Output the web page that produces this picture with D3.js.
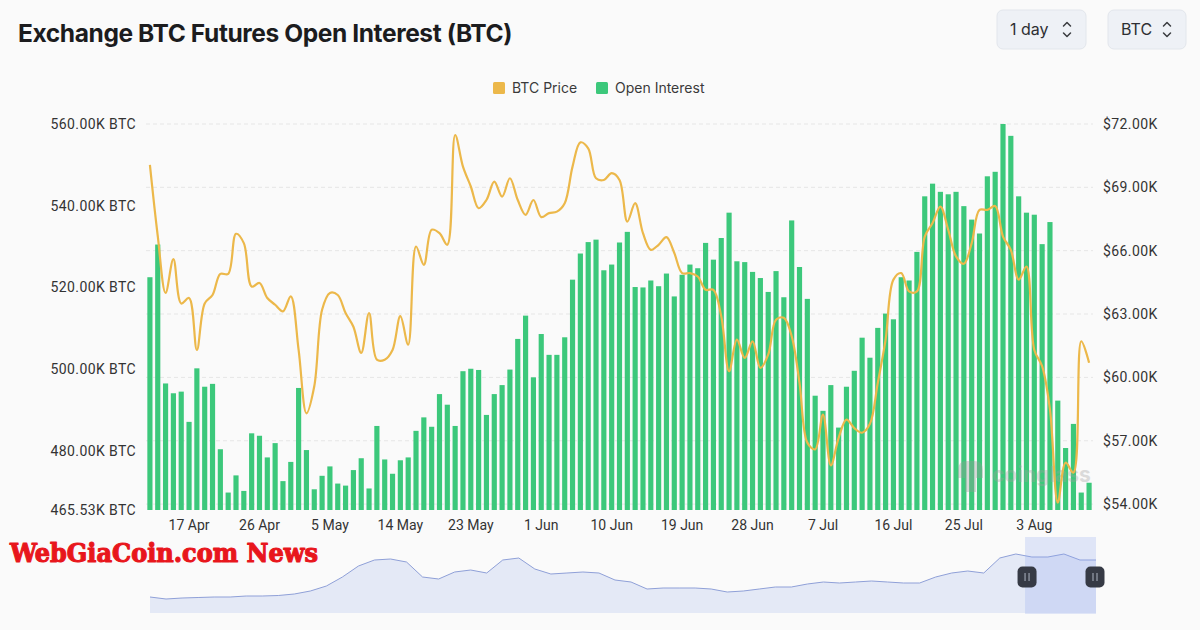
<!DOCTYPE html>
<html>
<head>
<meta charset="utf-8">
<script src="https://cdn.jsdelivr.net/npm/d3@7"></script>
<style>
  html, body { margin: 0; padding: 0; background: #fafafa; }
  svg { display: block; }
</style>
</head>
<body>
<svg id="chart" width="1200" height="630"></svg>
<script>
// ---------------- DATA ----------------
const startDate = "2024-04-12";
const dayCount = 121;

// Open interest, thousands of BTC (one bar per day)
const openInterest = [
  522.5, 530.5, 496.5, 494.1, 494.5, 487.1, 500.2, 495.7, 496.4, 480.4,
  469.8, 474.0, 470.2, 484.3, 483.7, 478.4, 481.9, 472.6, 477.3, 495.4,
  480.2, 470.6, 473.9, 476.2, 472.0, 471.5, 475.3, 478.2, 470.8, 486.1,
  477.9, 474.4, 477.7, 478.4, 484.9, 488.2, 485.9, 493.9, 491.3, 486.1,
  499.5, 500.1, 499.8, 488.8, 493.9, 496.1, 499.9, 507.4, 513.1, 498.0,
  508.6, 503.5, 503.5, 507.8, 521.9, 528.3, 531.1, 531.7, 524.2, 525.6,
  531.0, 533.6, 520.1, 520.0, 521.7, 520.3, 523.4, 517.8, 523.1, 525.6,
  524.7, 530.9, 526.8, 532.1, 538.3, 526.4, 526.2, 523.8, 522.3, 518.9,
  524.0, 517.6, 536.4, 525.0, 517.2, 493.5, 489.8, 496.1, 485.7, 495.7,
  499.6, 507.7, 502.8, 510.1, 513.6, 512.2, 522.5, 521.7, 528.7, 542.3,
  545.4, 543.4, 542.8, 543.4, 539.9, 536.6, 533.2, 547.2, 548.3, 560.0,
  557.1, 542.3, 538.3, 537.8, 530.6, 536.0, 492.3, 480.7, 486.6, 469.8,
  472.2
];

// BTC price, thousands of USD (one point per day)
const btcPrice = [
  70.06, 66.70, 64.00, 65.60, 63.50, 63.76, 61.30, 63.50, 63.90, 64.90,
  64.90, 66.80, 66.36, 64.30, 64.47, 63.76, 63.44, 63.13, 63.84, 61.30,
  58.30, 59.58, 63.20, 64.00, 63.90, 63.05, 62.40, 61.16, 63.05, 60.84,
  60.84, 61.30, 62.90, 61.55, 66.20, 65.33, 66.99, 66.83, 66.28, 71.48,
  69.98, 69.04, 68.01, 68.40, 69.27, 68.56, 69.43, 68.40, 67.70, 68.40,
  67.59, 67.78, 67.85, 68.25, 69.98, 71.13, 70.85, 69.43, 69.35, 69.67,
  69.35, 67.38, 68.25, 66.83, 66.04, 66.28, 66.64, 65.89, 64.94, 64.94,
  64.78, 64.15, 64.15, 62.90, 60.29, 61.79, 60.92, 61.71, 60.45, 61.08,
  62.73, 62.82, 61.95, 59.74, 56.91, 56.59, 58.24, 55.83, 57.14, 58.00,
  57.60, 57.38, 57.80, 59.74, 61.79, 64.63, 64.94, 64.07, 64.07, 66.67,
  67.31, 68.09, 66.99, 65.73, 65.38, 66.36, 67.93, 67.93, 68.12, 66.67,
  66.04, 64.63, 65.25, 61.30, 60.53, 58.48, 54.07, 55.96, 55.49, 61.71,
  60.69
];

// Axis ticks
const oiTicks = [465.53, 480, 500, 520, 540, 560];
const priceTicks = [54, 57, 60, 63, 66, 69, 72];
const xTickLabels = ["17 Apr", "26 Apr", "5 May", "14 May", "23 May", "1 Jun", "10 Jun",
                     "19 Jun", "28 Jun", "7 Jul", "16 Jul", "25 Jul", "3 Aug"];

// Navigator (overview) trend, arbitrary units, evenly sampled
const navigatorTrend = [
  16, 14, 15, 15.5, 16, 16, 17, 17, 17.5, 19, 22, 27, 36, 47, 53, 54, 51, 36, 34, 41,
  43, 40, 53, 55, 44, 39, 40, 41, 40, 33, 31, 24, 25, 25, 25, 24, 21, 22, 24, 26,
  26, 29, 31, 30, 31, 32, 31, 30, 30, 36, 40, 42, 40, 55, 59, 56, 56, 59, 53, 53
];
const navigatorWindow = [0.925, 1.0];

const legendItems = [
  { label: "BTC Price", color: "#ecb84a" },
  { label: "Open Interest", color: "#3cc87b" }
];
const selectors = ["1 day", "BTC"];

// ---------------- CHART ----------------
const svg = d3.select("#chart");
const W = 1200, H = 630;
const plot = { left: 146, right: 1093, top: 124, bottom: 510 };

const parse = d3.timeParse("%Y-%m-%d");
const fmtDay = d3.timeFormat("%-d %b");
const dates = d3.timeDay.range(parse(startDate), d3.timeDay.offset(parse(startDate), dayCount));
const dayLabels = dates.map(fmtDay);

const x = d3.scaleBand().domain(dayLabels).range([plot.left, plot.right]).paddingInner(0.34).paddingOuter(0.17);
const yOI = d3.scaleLinear().domain([465.53, 560]).range([plot.bottom, plot.top]);
const yPrice = d3.scaleLinear().domain([53.72, 72]).range([plot.bottom, plot.top]);

svg.append("rect").attr("width", W).attr("height", H).attr("fill", "#fafafa");

// Title
const title = svg.append("text")
  .attr("x", 18).attr("y", 42)
  .attr("font-family", "Inter, 'Open Sans', sans-serif")
  .attr("font-weight", 700)
  .attr("font-size", 24)
  .attr("letter-spacing", -0.4)
  .attr("fill", "#1c1c1e")
  .text("Exchange BTC Futures Open Interest (BTC)");
{
  const len = title.node().getComputedTextLength();
  const fs = 24 * 494 / len;
  title.attr("font-size", fs.toFixed(2));
}

// Selector buttons
const btnSpecs = [{ x: 997, w: 89 }, { x: 1108, w: 78 }];
selectors.forEach((s, i) => {
  const b = btnSpecs[i];
  const g = svg.append("g").attr("transform", `translate(${b.x},10)`);
  g.append("rect").attr("width", b.w).attr("height", 39).attr("rx", 6)
    .attr("fill", "#eef1f6").attr("stroke", "#e2e6ec");
  g.append("text").attr("x", 13).attr("y", 25)
    .attr("font-family", "Inter, sans-serif").attr("font-size", 16)
    .attr("fill", "#2d2f33").text(s);
  const cx = b.w - 19;
  g.append("path")
    .attr("d", `M${cx - 3.5},16 L${cx},12.5 L${cx + 3.5},16 M${cx - 3.5},23 L${cx},26.5 L${cx + 3.5},23`)
    .attr("fill", "none").attr("stroke", "#3a3c40").attr("stroke-width", 1.5)
    .attr("stroke-linecap", "round").attr("stroke-linejoin", "round");
});

// Legend
const legend = svg.append("g").attr("font-family", "Inter, sans-serif").attr("font-size", 14);
const legendX = [493, 596];
legendItems.forEach((d, i) => {
  legend.append("rect").attr("x", legendX[i]).attr("y", 82).attr("width", 12).attr("height", 12)
    .attr("rx", 1.5).attr("fill", d.color);
  legend.append("text").attr("x", legendX[i] + 19).attr("y", 93)
    .attr("fill", "#3a3a3a").text(d.label);
});

// Grid lines (right axis ticks)
svg.append("g").selectAll("line").data(priceTicks).join("line")
  .attr("x1", plot.left).attr("x2", plot.right)
  .attr("y1", d => yPrice(d)).attr("y2", d => yPrice(d))
  .attr("stroke", "#e6e6e6").attr("stroke-dasharray", "4,3").attr("stroke-width", 1);

// Bars
svg.append("g").selectAll("rect").data(openInterest).join("rect")
  .attr("x", (d, i) => x(dayLabels[i]))
  .attr("width", x.bandwidth())
  .attr("y", d => yOI(d))
  .attr("height", d => plot.bottom - yOI(d))
  .attr("fill", "#3cc87b");

// Coinglass watermark
const wm = svg.append("g").attr("opacity", 0.35);
wm.append("path")
  .attr("d", "M958,470 Q958,461 967,461 L974,461 Q983,461 983,470 L983,478 L976,478 L976,492 L965,492 L965,478 L958,478 Z")
  .attr("fill", "#9a9a9a");
wm.append("text").attr("x", 992).attr("y", 482)
  .attr("font-family", "Inter, sans-serif").attr("font-weight", 700).attr("font-size", 21)
  .attr("fill", "#a0a0a0").text("coinglass");

// Price line
const line = d3.line()
  .x((d, i) => x(dayLabels[i]) + x.bandwidth() / 2)
  .y(d => yPrice(d))
  .curve(d3.curveCatmullRom.alpha(0.5));
svg.append("path").datum(btcPrice)
  .attr("d", line)
  .attr("fill", "none").attr("stroke", "#ecb84a").attr("stroke-width", 2.2)
  .attr("stroke-linejoin", "round");

// Left axis
const leftAxis = d3.axisLeft(yOI).tickValues(oiTicks).tickSize(0).tickPadding(0)
  .tickFormat(d => d3.format(".2f")(d) + "K BTC");
const gL = svg.append("g").attr("transform", "translate(136,0)").call(leftAxis);
gL.select(".domain").remove();
gL.selectAll("text").attr("font-family", "Roboto, sans-serif").attr("font-size", 14)
  .attr("letter-spacing", 0.4).attr("fill", "#333");

// Right axis
const rightAxis = d3.axisRight(yPrice).tickValues(priceTicks).tickSize(0).tickPadding(0)
  .tickFormat(d => "$" + d3.format(".2f")(d) + "K");
const gR = svg.append("g").attr("transform", "translate(1103,0)").call(rightAxis);
gR.select(".domain").remove();
gR.selectAll("text").attr("font-family", "Roboto, sans-serif").attr("font-size", 14)
  .attr("letter-spacing", 0.4).attr("fill", "#333");

// Bottom axis
const bottomAxis = d3.axisBottom(x).tickValues(xTickLabels).tickSize(0).tickPadding(0);
const gB = svg.append("g").attr("transform", `translate(0,${plot.bottom + 10})`).call(bottomAxis);
gB.select(".domain").remove();
gB.selectAll("text").attr("font-family", "Roboto, sans-serif").attr("font-size", 14).attr("fill", "#333");

// Navigator
const nav = { left: 150, right: 1096, top: 537, bottom: 614 };
const nx = d3.scaleLinear().domain([0, navigatorTrend.length - 1]).range([nav.left, nav.right]);
const ny = d3.scaleLinear().domain([0, 75]).range([613, 538]);
const nwin = d3.scaleLinear().domain([0, 1]).range([nav.left, nav.right]);
svg.append("path").datum(navigatorTrend)
  .attr("d", d3.area().x((d, i) => nx(i)).y0(613).y1(d => ny(d)).curve(d3.curveLinear))
  .attr("fill", "#e4e9f6");
svg.append("path").datum(navigatorTrend)
  .attr("d", d3.line().x((d, i) => nx(i)).y(d => ny(d)))
  .attr("fill", "none").attr("stroke", "#8fa0d8").attr("stroke-width", 1);
svg.append("rect")
  .attr("x", nwin(navigatorWindow[0])).attr("width", nwin(navigatorWindow[1]) - nwin(navigatorWindow[0]))
  .attr("y", nav.top).attr("height", nav.bottom - nav.top)
  .attr("fill", "#8fa6f0").attr("opacity", 0.25);
navigatorWindow.forEach(v => {
  const cx = nwin(v) + (v === 1 ? -1 : 2);
  const g = svg.append("g").attr("transform", `translate(${cx},577)`);
  g.append("rect").attr("x", -9.5).attr("y", -10.5).attr("width", 19).attr("height", 21).attr("rx", 5)
    .attr("fill", "#363a45");
  g.append("line").attr("x1", -2).attr("x2", -2).attr("y1", -4).attr("y2", 4).attr("stroke", "#9aa0ad").attr("stroke-width", 1.2);
  g.append("line").attr("x1", 2).attr("x2", 2).attr("y1", -4).attr("y2", 4).attr("stroke", "#9aa0ad").attr("stroke-width", 1.2);
});

// Red site watermark
const wg = svg.append("text").attr("x", 10).attr("y", 562)
  .attr("font-family", "'DejaVu Serif Condensed', 'DejaVu Serif', serif")
  .attr("font-weight", 700).attr("font-size", 28)
  .attr("fill", "#e8161c").attr("stroke", "#e8161c").attr("stroke-width", 1.1)
  .attr("stroke-linejoin", "round")
  .text("WebGiaCoin.com News");
{
  const len = wg.node().getComputedTextLength();
  wg.attr("font-size", (28 * 308 / len).toFixed(2));
}
</script>
</body>
</html>
